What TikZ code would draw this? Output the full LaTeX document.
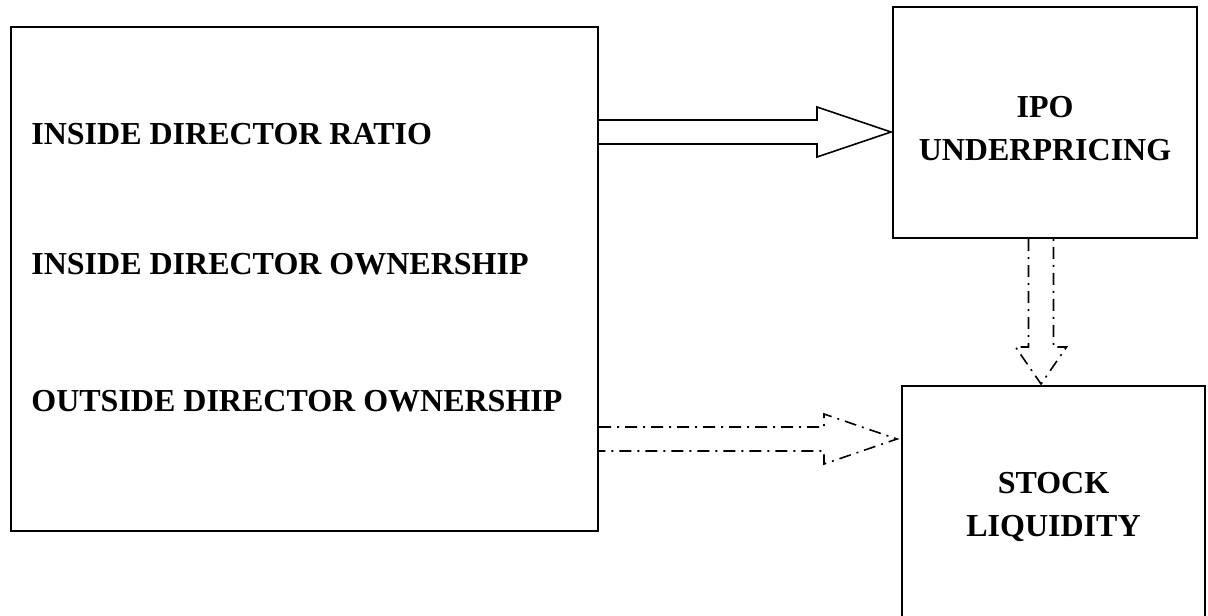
\documentclass[tikz,border=0pt]{standalone}
\usepackage{fontspec}
\setmainfont{Liberation Serif}
\usetikzlibrary{positioning, calc}
\tikzset{
    block/.style={rectangle, draw=black, line width=1pt, inner sep=0pt},
    boxtext/.style={align=center, font=\bfseries\fontsize{16}{21.5}\selectfont},
    item/.style={inner sep=0pt, anchor=west, font=\bfseries\fontsize{16}{21.5}\selectfont},
    hollow/.style={draw=black, line width=0.8pt, line join=miter},
    dashhollow/.style={hollow, dash pattern=on 6pt off 3pt on 1pt off 3pt}
}
\begin{document}
\begin{tikzpicture}[x=0.5pt, y=-0.5pt]
        \useasboundingbox[fill=white] (0,0) rectangle (1208,615);
        % Boxes
        \node (factors) [block, minimum width=293.5pt, minimum height=252pt] at (304.5,279) {};
        \node (ipo) [block, boxtext, text height=38.4pt, minimum width=152pt, minimum height=115.5pt] at (1045,122.5) {IPO\\UNDERPRICING};
        \node (liq) [block, boxtext, minimum width=151.5pt, minimum height=121pt] at (1053.5,507) {STOCK\\LIQUIDITY};

        % Governance variables
        \node (ratio) [item] at ($(factors.north west)+(21,108)$) {INSIDE DIRECTOR RATIO};
        \node (inown) [item] at ($(ratio.west)+(0,130)$) {INSIDE DIRECTOR OWNERSHIP};
        \node (outown) [item] at ($(inown.west)+(0,137)$) {OUTSIDE DIRECTOR OWNERSHIP};

        % Block arrow: factors -> ipo
        \coordinate (tipA) at ($(ipo.west)+(-1,9.5)$);
        \coordinate (au) at ($(tipA)+(-74,-12)$);
        \coordinate (ad) at ($(tipA)+(-74,12)$);
        \draw [hollow] (factors.east |- au) -- (au) -- ++(0,-13) -- (tipA) -- ($(ad)+(0,13)$) -- (ad) -- (factors.east |- ad);

        % Block arrow: factors -> liq
        \coordinate (tipB) at ($(liq.north west)+(-4,54)$);
        \coordinate (bu) at ($(tipB)+(-73,-12)$);
        \coordinate (bd) at ($(tipB)+(-73,12)$);
        \draw [dashhollow] (factors.east |- bu) -- (bu) -- ++(0,-13) -- (tipB) -- ($(bd)+(0,13)$) -- (bd) -- (factors.east |- bd);

        % Block arrow: ipo -> liq
        \coordinate (tipC) at ($(ipo.south |- liq.north)+(-4,-1)$);
        \coordinate (cl) at ($(tipC)+(-12.5,-37)$);
        \coordinate (cr) at ($(tipC)+(12.5,-37)$);
        \draw [dashhollow] (cl |- ipo.south) -- (cl) -- ++(-13,0) -- (tipC) -- ($(cr)+(13,0)$) -- (cr) -- (cr |- ipo.south);
    \end{tikzpicture}
\end{document}
